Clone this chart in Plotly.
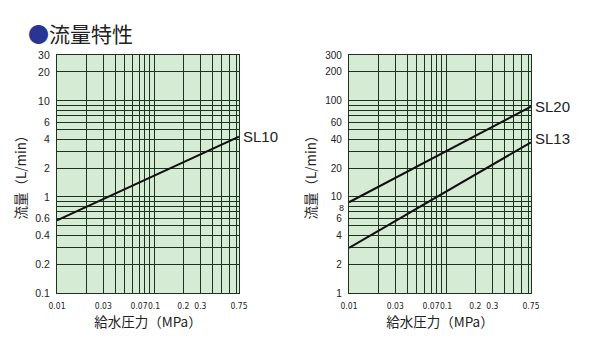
import plotly.graph_objects as go
import math

# ---- data ----
pressure = [0.01, 0.75]          # MPa
sl10 = [0.57, 4.25]              # L/min
sl20 = [8.8, 87.0]
sl13 = [2.95, 37.0]

x_grid = [0.01, 0.02, 0.03, 0.04, 0.05, 0.06, 0.07, 0.08, 0.09,
          0.1, 0.2, 0.3, 0.4, 0.5, 0.6, 0.7, 0.75]
x_labels = ["0.01", "", "0.03", "", "", "", "0.07", "", "",
            "0.1", "0.2", "0.3", "", "", "", "", "0.75"]

y1_grid = [0.1, 0.2, 0.3, 0.4, 0.5, 0.6, 0.7, 0.8, 0.9,
           1, 2, 3, 4, 5, 6, 7, 8, 9, 10, 20, 30]
y1_labels = ["0.1", "0.2", "", "0.4", "", "0.6", "", "", "",
             "1", "2", "", "4", "", "6", "", "", "", "10", "20", "30"]

y2_grid = [1, 2, 3, 4, 5, 6, 7, 8, 9,
           10, 20, 30, 40, 50, 60, 70, 80, 90, 100, 200, 300]
y2_labels = ["1", "2", "", "4", "", "6", "", "", "",
             "10", "20", "", "40", "", "60", "", "", "", "100", "200", "300"]
y2_extra_label = 8   # crowded label drawn just below its gridline

W, H = 600, 347
GREEN = "#d6ebd3"
GRID = "#1c3322"
CJK = "Noto Sans CJK JP"
LAT = "Liberation Sans, Arial, sans-serif"
NARROW = "Liberation Sans Narrow, DejaVu Sans Condensed, Arial Narrow, Liberation Sans, sans-serif"

def px_x(a, b):
    return [a / W, b / W]

def px_y(top, bottom):
    return [1 - bottom / H, 1 - top / H]

fig = go.Figure()
fig.add_trace(go.Scatter(x=pressure, y=sl10, mode="lines", xaxis="x", yaxis="y",
                         line=dict(color="#111", width=2), showlegend=False))
fig.add_trace(go.Scatter(x=pressure, y=sl20, mode="lines", xaxis="x2", yaxis="y2",
                         line=dict(color="#111", width=2), showlegend=False))
fig.add_trace(go.Scatter(x=pressure, y=sl13, mode="lines", xaxis="x2", yaxis="y2",
                         line=dict(color="#111", width=2), showlegend=False))

def xaxis(domain, anchor):
    return dict(type="log", domain=domain, anchor=anchor, automargin=False,
                range=[math.log10(0.01), math.log10(0.75)],
                tickmode="array", tickvals=x_grid, ticktext=x_labels,
                showgrid=True, gridcolor=GRID, gridwidth=1.2,
                showline=True, linecolor=GRID, linewidth=1.2, mirror=True,
                ticks="", ticklabelstandoff=5, zeroline=False, tickangle=0,
                tickfont=dict(family=NARROW, size=8.5, color="#222"),
                title=dict(text="給水圧力（MPa）", font=dict(family=CJK, size=13.5, color="#222"),
                           standoff=6))

def yaxis(domain, anchor, grid, labels, rng):
    return dict(type="log", domain=domain, anchor=anchor, automargin=False,
                range=rng,
                tickmode="array", tickvals=grid, ticktext=labels,
                showgrid=True, gridcolor=GRID, gridwidth=1.2,
                showline=True, linecolor=GRID, linewidth=1.2, mirror=True,
                ticks="", ticklabelstandoff=4, zeroline=False,
                tickfont=dict(family=LAT, size=10.5, color="#222"),
                title=dict(text="流量（L/min）", font=dict(family=CJK, size=13.5, color="#222"),
                           standoff=5))

fig.update_layout(
    width=W, height=H,
    margin=dict(l=0, r=0, t=0, b=0),
    paper_bgcolor="white", plot_bgcolor=GREEN,
    xaxis=xaxis(px_x(57, 239), "y"),
    yaxis=yaxis(px_y(55, 293), "x", y1_grid, y1_labels, [-1, math.log10(30)]),
    xaxis2=xaxis(px_x(349, 531), "y2"),
    yaxis2=yaxis(px_y(55, 293), "x2", y2_grid, y2_labels, [0, math.log10(300)]),
)
fig.update_layout(yaxis2_tickfont_size=10)

# crowded "8" tick label on the right chart, nudged down like the reference
fig.add_annotation(x=0, y=math.log10(y2_extra_label), xref="x2 domain", yref="y2",
                   text=str(y2_extra_label), showarrow=False, borderpad=0,
                   xanchor="right", yanchor="middle", xshift=-4, yshift=-1.3,
                   font=dict(family=LAT, size=9, color="#222"))

# series labels at line ends
for xr, yr, yv, txt, dy in [("x", "y", sl10[-1], "SL10", 0),
                            ("x2", "y2", sl20[-1], "SL20", 0),
                            ("x2", "y2", sl13[-1], "SL13", 4)]:
    fig.add_annotation(x=math.log10(pressure[-1]), y=math.log10(yv), xref=xr, yref=yr,
                       text=txt, showarrow=False, xanchor="left", yanchor="middle",
                       xshift=2, yshift=dy,
                       font=dict(family=LAT, size=15, color="#222"))

fig.add_annotation(x=26 / W, y=1 - 33 / H, xref="paper", yref="paper",
                   text="<span style='color:#2a3593'>●</span>流量特性",
                   showarrow=False, xanchor="left", yanchor="middle",
                   font=dict(family=CJK, size=21, color="#222"))

fig.write_html("out.html")
